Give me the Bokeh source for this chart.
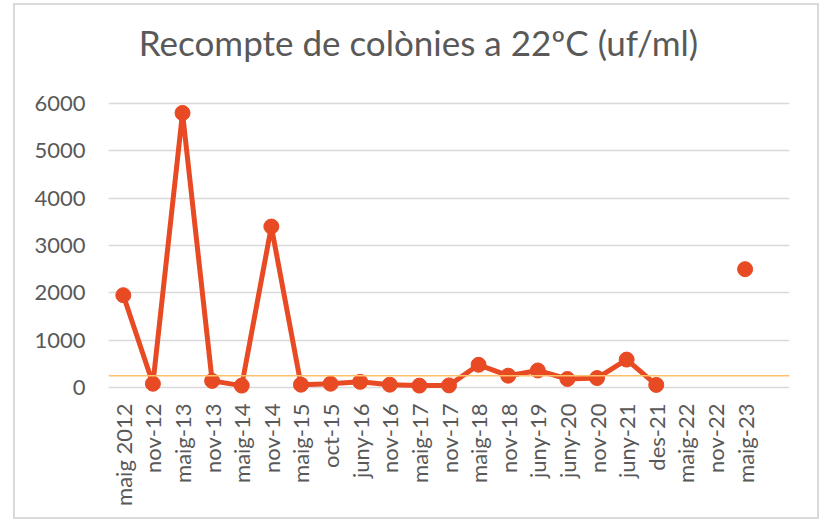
import math
from bokeh.plotting import figure
from bokeh.models import ColumnDataSource, FactorRange, Range1d, Span, Label, FixedTicker
from bokeh.embed import file_html
from bokeh.resources import INLINE

# ---- data ----
dates = ["maig 2012", "nov-12", "maig-13", "nov-13", "maig-14", "nov-14", "maig-15",
         "oct-15", "juny-16", "nov-16", "maig-17", "nov-17", "maig-18", "nov-18",
         "juny-19", "juny-20", "nov-20", "juny-21", "des-21", "maig-22", "nov-22", "maig-23"]
counts = [1950, 80, 5800, 140, 40, 3400, 60, 80, 120, 60, 40, 45, 480, 250, 360, 180,
          200, 590, 55, float("nan"), float("nan"), 2500]
threshold = 250
y_ticks = [0, 1000, 2000, 3000, 4000, 5000, 6000]
title_text = "Recompte de colònies a 22ºC (uf/ml)"

FONT = "Lato"
TXT = "#595959"
RED = "#E84A24"

src = ColumnDataSource(data=dict(x=dates, y=counts))

# frame reaches the top of the canvas so the title label (drawn in the frame) is visible
p = figure(width=806, height=516, output_backend="svg", toolbar_location=None,
           x_range=FactorRange(factors=dates + [" "], range_padding=0),
           y_range=Range1d(-211, 8070),
           min_border_left=93, min_border_right=32, min_border_top=0, min_border_bottom=124)
p.styles = {"border": "2px solid #D9D9D9", "margin-left": "13px", "margin-top": "3px"}
p.outline_line_color = None
p.background_fill_color = "white"
p.border_fill_color = "white"

p.xgrid.grid_line_color = None
p.ygrid.grid_line_color = "#D9D9D9"
p.ygrid.grid_line_width = 1.5
p.yaxis.ticker = FixedTicker(ticks=y_ticks)

for ax in (p.xaxis[0], p.yaxis[0]):
    ax.axis_line_color = None
    ax.major_tick_line_color = None
    ax.minor_tick_line_color = None
    ax.major_label_text_font = FONT
    ax.major_label_text_font_size = "22px"
    ax.major_label_text_color = TXT
p.yaxis.major_label_standoff = 17
p.xaxis.major_label_standoff = 0
p.xaxis.major_label_orientation = math.pi / 2

p.add_layout(Span(location=threshold, dimension="width", line_color="#FFC06A", line_width=1.5))

p.line("x", "y", source=src, line_color=RED, line_width=5)
p.scatter("x", "y", source=src, size=15, fill_color=RED, line_color=RED)

# screen units here are measured from the frame's bottom-left corner
p.add_layout(Label(x=310, y=356, x_units="screen", y_units="screen", text=title_text,
                   text_align="center", text_baseline="middle", text_font=FONT,
                   text_font_size="35px", text_color=TXT))

open("out.html", "w").write(file_html(p, INLINE))
